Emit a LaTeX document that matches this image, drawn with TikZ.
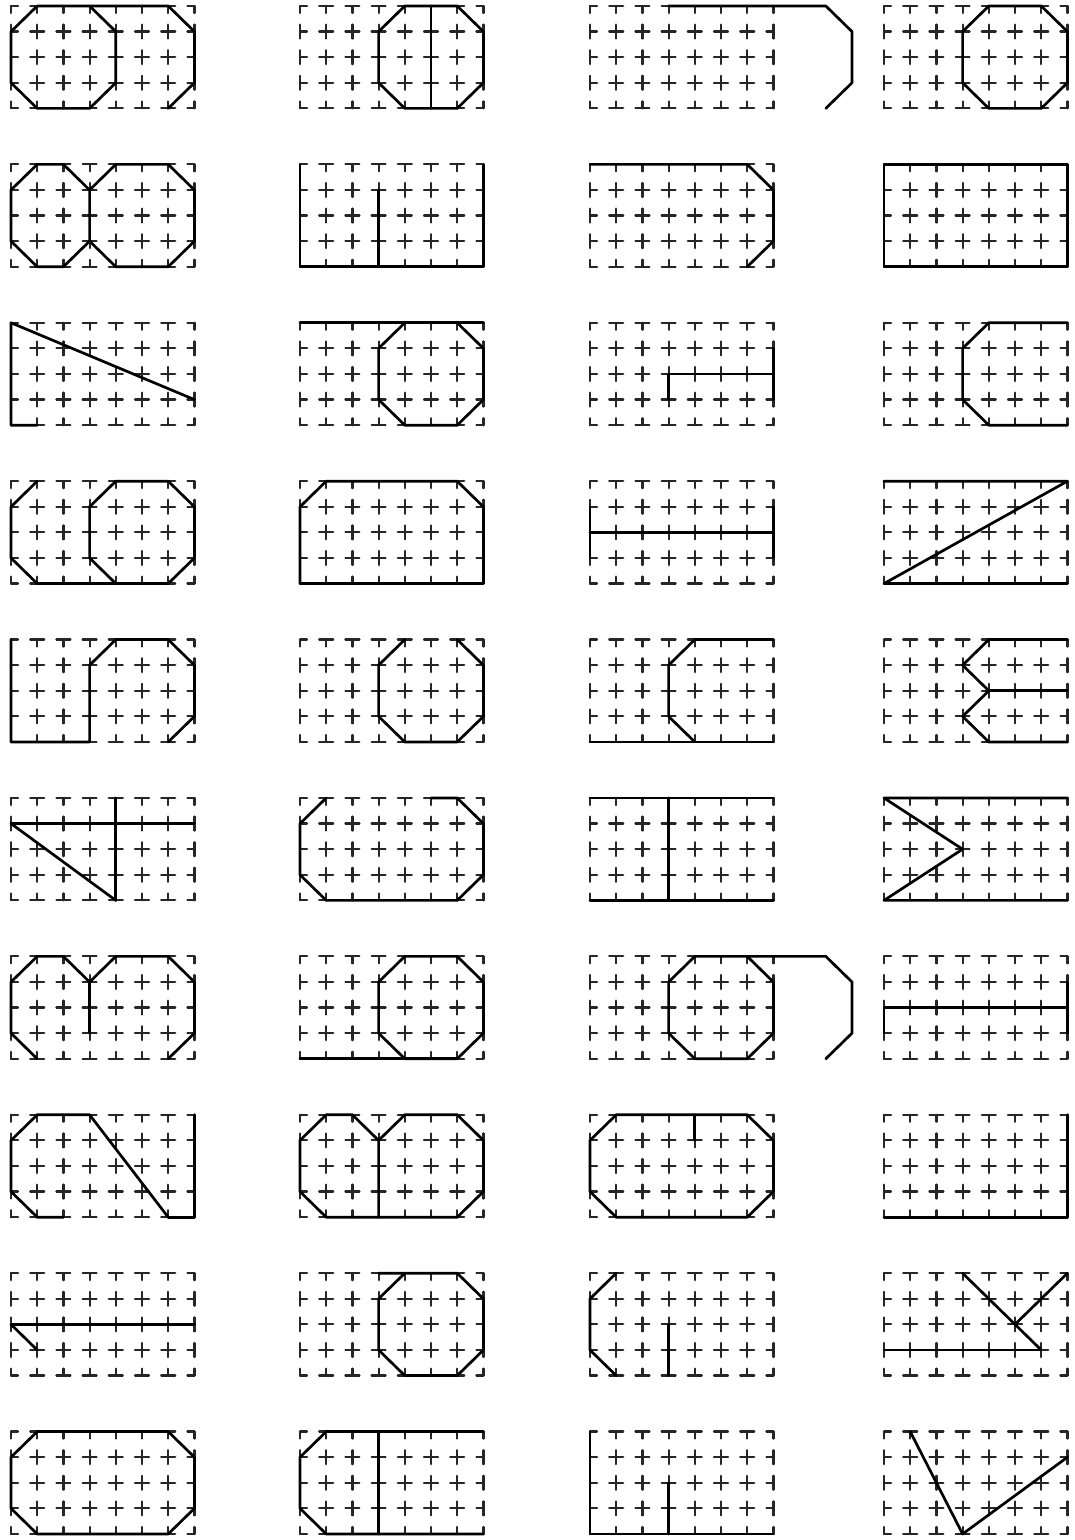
\documentclass[tikz,border=0pt]{standalone}
\usetikzlibrary{calc}

\newcommand{\crossgrid}{%
  \foreach \i in {0,...,7}{%
    \foreach \j in {0,...,4}{%
      \ifnum\i>0 \draw[gridpen] (\i,\j) -- ++(-7pt,0); \fi
      \ifnum\i<7 \draw[gridpen] (\i,\j) -- ++(7pt,0); \fi
      \ifnum\j>0 \draw[gridpen] (\i,\j) -- ++(0,-7pt); \fi
      \ifnum\j<4 \draw[gridpen] (\i,\j) -- ++(0,7pt); \fi
    }%
  }%
}

\begin{document}
\begin{tikzpicture}[x=26.2pt, y=25.6pt, line cap=round, line join=round,
  gridpen/.style={line width=2.2pt, black!85},
  stroke/.style={line width=2.7pt, black}]
  \useasboundingbox[fill=white] (0,0) rectangle (1075pt,1540pt);

  % row 1
  \begin{scope}[xshift=11pt, yshift=1431.6pt]
    \crossgrid
    \draw[stroke] (1,4) -- (6,4) -- (7,3) -- (7,1) -- (6,0);
    \draw[stroke] (1,4) -- (0,3) -- (0,1) -- (1,0) -- (3,0) -- (4,1) -- (4,3) -- (3,4);
  \end{scope}
  \begin{scope}[xshift=300pt, yshift=1431.6pt]
    \crossgrid
    \draw[stroke] (4,4) -- (6,4) -- (7,3) -- (7,1) -- (6,0) -- (4,0) -- (3,1) -- (3,3) -- cycle;
    \draw[stroke] (5,4) -- (5,0);
  \end{scope}
  \begin{scope}[xshift=590pt, yshift=1431.6pt]
    \crossgrid
    \draw[stroke] (3,4) -- (9,4) -- (10,3) -- (10,1) -- (9,0);
  \end{scope}
  \begin{scope}[xshift=884pt, yshift=1431.6pt]
    \crossgrid
    \draw[stroke] (4,4) -- (6,4) -- (7,3) -- (7,1) -- (6,0) -- (4,0) -- (3,1) -- (3,3) -- cycle;
  \end{scope}

  % row 2
  \begin{scope}[xshift=11pt, yshift=1273.2pt]
    \crossgrid
    \draw[stroke] (1,4) -- (2,4) -- (3,3) -- (3,1) -- (2,0) -- (1,0) -- (0,1) -- (0,3) -- cycle;
    \draw[stroke] (3,3) -- (4,4) -- (6,4) -- (7,3) -- (7,1) -- (6,0) -- (4,0) -- (3,1);
  \end{scope}
  \begin{scope}[xshift=300pt, yshift=1273.2pt]
    \crossgrid
    \draw[stroke] (0,4) -- (0,0) -- (7,0) -- (7,4);
    \draw[stroke] (3,3) -- (3,0);
  \end{scope}
  \begin{scope}[xshift=590pt, yshift=1273.2pt]
    \crossgrid
    \draw[stroke] (0,4) -- (6,4) -- (7,3) -- (7,1) -- (6,0);
  \end{scope}
  \begin{scope}[xshift=884pt, yshift=1273.2pt]
    \crossgrid
    \draw[stroke] (0,0) rectangle (7,4);
  \end{scope}

  % row 3
  \begin{scope}[xshift=11pt, yshift=1114.8pt]
    \crossgrid
    \draw[stroke] (1,0) -- (0,0) -- (0,4) -- (7,1);
  \end{scope}
  \begin{scope}[xshift=300pt, yshift=1114.8pt]
    \crossgrid
    \draw[stroke] (0,4) -- (7,4);
    \draw[stroke] (4,4) -- (3,3) -- (3,1) -- (4,0) -- (6,0) -- (7,1) -- (7,3) -- (6,4);
  \end{scope}
  \begin{scope}[xshift=590pt, yshift=1114.8pt]
    \crossgrid
    \draw[stroke] (3,1) -- (3,2) -- (7,2);
    \draw[stroke] (7,3) -- (7,1);
  \end{scope}
  \begin{scope}[xshift=884pt, yshift=1114.8pt]
    \crossgrid
    \draw[stroke] (7,4) -- (4,4) -- (3,3) -- (3,1) -- (4,0) -- (7,0);
  \end{scope}

  % row 4
  \begin{scope}[xshift=11pt, yshift=956.4pt]
    \crossgrid
    \draw[stroke] (1,4) -- (0,3) -- (0,1) -- (1,0) -- (6,0) -- (7,1) -- (7,3) -- (6,4) -- (4,4) -- (3,3) -- (3,1) -- (4,0);
  \end{scope}
  \begin{scope}[xshift=300pt, yshift=956.4pt]
    \crossgrid
    \draw[stroke] (0,0) -- (0,3) -- (1,4) -- (6,4) -- (7,3) -- (7,0) -- cycle;
  \end{scope}
  \begin{scope}[xshift=590pt, yshift=956.4pt]
    \crossgrid
    \draw[stroke] (0,3) -- (0,1);
    \draw[stroke] (7,3) -- (7,1);
    \draw[stroke] (0,2) -- (7,2);
  \end{scope}
  \begin{scope}[xshift=884pt, yshift=956.4pt]
    \crossgrid
    \draw[stroke] (0,4) -- (7,4) -- (0,0) -- (7,0);
  \end{scope}

  % row 5
  \begin{scope}[xshift=11pt, yshift=798pt]
    \crossgrid
    \draw[stroke] (0,4) -- (0,0) -- (3,0) -- (3,3) -- (4,4) -- (6,4) -- (7,3) -- (7,1) -- (6,0);
  \end{scope}
  \begin{scope}[xshift=300pt, yshift=798pt]
    \crossgrid
    \draw[stroke] (4,4) -- (3,3) -- (3,1) -- (4,0) -- (6,0) -- (7,1) -- (7,3) -- (6,4);
  \end{scope}
  \begin{scope}[xshift=590pt, yshift=798pt]
    \crossgrid
    \draw[stroke] (7,4) -- (4,4) -- (3,3) -- (3,1) -- (4,0);
    \draw[stroke] (0,0) -- (7,0);
  \end{scope}
  \begin{scope}[xshift=884pt, yshift=798pt]
    \crossgrid
    \draw[stroke] (7,4) -- (4,4) -- (3,3) -- (4,2) -- (3,1) -- (4,0) -- (7,0);
    \draw[stroke] (4,2) -- (7,2);
  \end{scope}

  % row 6
  \begin{scope}[xshift=11pt, yshift=639.6pt]
    \crossgrid
    \draw[stroke] (0,3) -- (7,3);
    \draw[stroke] (4,4) -- (4,0);
    \draw[stroke] (0,3) -- (4,0);
  \end{scope}
  \begin{scope}[xshift=300pt, yshift=639.6pt]
    \crossgrid
    \draw[stroke] (1,4) -- (0,3) -- (0,1) -- (1,0) -- (6,0) -- (7,1) -- (7,3) -- (6,4) -- (5,4);
  \end{scope}
  \begin{scope}[xshift=590pt, yshift=639.6pt]
    \crossgrid
    \draw[stroke] (0,4) -- (7,4);
    \draw[stroke] (0,0) -- (7,0);
    \draw[stroke] (3,4) -- (3,0);
  \end{scope}
  \begin{scope}[xshift=884pt, yshift=639.6pt]
    \crossgrid
    \draw[stroke] (7,4) -- (0,4) -- (3,2) -- (0,0) -- (7,0);
  \end{scope}

  % row 7
  \begin{scope}[xshift=11pt, yshift=481.2pt]
    \crossgrid
    \draw[stroke] (1,0) -- (0,1) -- (0,3) -- (1,4) -- (2,4) -- (3,3) -- (4,4) -- (6,4) -- (7,3) -- (7,1) -- (6,0);
    \draw[stroke] (3,3) -- (3,1);
  \end{scope}
  \begin{scope}[xshift=300pt, yshift=481.2pt]
    \crossgrid
    \draw[stroke] (4,4) -- (6,4) -- (7,3) -- (7,1) -- (6,0) -- (4,0) -- (3,1) -- (3,3) -- cycle;
    \draw[stroke] (0,0) -- (6,0);
  \end{scope}
  \begin{scope}[xshift=590pt, yshift=481.2pt]
    \crossgrid
    \draw[stroke] (4,4) -- (9,4) -- (10,3) -- (10,1) -- (9,0);
    \draw[stroke] (4,4) -- (3,3) -- (3,1) -- (4,0) -- (6,0) -- (7,1) -- (7,3) -- (6,4);
  \end{scope}
  \begin{scope}[xshift=884pt, yshift=481.2pt]
    \crossgrid
    \draw[stroke] (0,1) -- (0,2) -- (7,2);
    \draw[stroke] (7,3) -- (7,1);
  \end{scope}

  % row 8
  \begin{scope}[xshift=11pt, yshift=322.8pt]
    \crossgrid
    \draw[stroke] (6,0) -- (3,4) -- (1,4) -- (0,3) -- (0,1) -- (1,0) -- (2,0);
    \draw[stroke] (7,4) -- (7,0) -- (6,0);
  \end{scope}
  \begin{scope}[xshift=300pt, yshift=322.8pt]
    \crossgrid
    \draw[stroke] (1,4) -- (2,4) -- (3,3) -- (3,0);
    \draw[stroke] (3,3) -- (4,4) -- (6,4) -- (7,3) -- (7,1) -- (6,0) -- (1,0) -- (0,1) -- (0,3) -- (1,4);
  \end{scope}
  \begin{scope}[xshift=590pt, yshift=322.8pt]
    \crossgrid
    \draw[stroke] (1,4) -- (6,4) -- (7,3) -- (7,1) -- (6,0) -- (1,0) -- (0,1) -- (0,3) -- cycle;
    \draw[stroke] (4,4) -- (4,3);
  \end{scope}
  \begin{scope}[xshift=884pt, yshift=322.8pt]
    \crossgrid
    \draw[stroke] (7,4) -- (7,0) -- (0,0);
  \end{scope}

  % row 9
  \begin{scope}[xshift=11pt, yshift=164.4pt]
    \crossgrid
    \draw[stroke] (0,2) -- (7,2);
    \draw[stroke] (0,2) -- (1,1);
  \end{scope}
  \begin{scope}[xshift=300pt, yshift=164.4pt]
    \crossgrid
    \draw[stroke] (3,4) -- (6,4) -- (7,3) -- (7,1) -- (6,0) -- (4,0) -- (3,1) -- (3,3) -- (4,4);
  \end{scope}
  \begin{scope}[xshift=590pt, yshift=164.4pt]
    \crossgrid
    \draw[stroke] (1,4) -- (0,3) -- (0,1) -- (1,0);
    \draw[stroke] (3,2) -- (3,0);
  \end{scope}
  \begin{scope}[xshift=884pt, yshift=164.4pt]
    \crossgrid
    \draw[stroke] (3,4) -- (6,1);
    \draw[stroke] (7,4) -- (5,2);
    \draw[stroke] (0,1) -- (6,1);
  \end{scope}

  % row 10
  \begin{scope}[xshift=11pt, yshift=6pt]
    \crossgrid
    \draw[stroke] (1,4) -- (6,4) -- (7,3) -- (7,1) -- (6,0) -- (1,0) -- (0,1) -- (0,3) -- cycle;
  \end{scope}
  \begin{scope}[xshift=300pt, yshift=6pt]
    \crossgrid
    \draw[stroke] (7,4) -- (1,4) -- (0,3) -- (0,1) -- (1,0) -- (7,0);
    \draw[stroke] (3,4) -- (3,0);
  \end{scope}
  \begin{scope}[xshift=590pt, yshift=6pt]
    \crossgrid
    \draw[stroke] (3,2) -- (3,0);
    \draw[stroke] (0,4) -- (0,0) -- (7,0);
  \end{scope}
  \begin{scope}[xshift=884pt, yshift=6pt]
    \crossgrid
    \draw[stroke] (1,4) -- (3,0) -- (7,3);
  \end{scope}
\end{tikzpicture}
\end{document}
